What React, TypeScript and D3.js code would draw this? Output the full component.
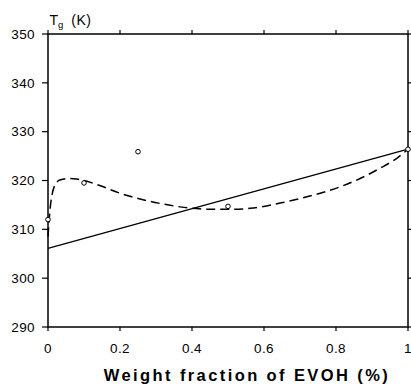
import React from "react";
import * as d3 from "d3";

const xTicks = [0, 0.2, 0.4, 0.6, 0.8, 1];
const xTickLabels = ["0", "0.2", "0.4", "0.6", "0.8", "1"];
const yTicks = [290, 300, 310, 320, 330, 340, 350];

const pointX = [0, 0.1, 0.25, 0.5, 1];
const pointY = [312, 319.5, 325.9, 314.7, 326.4];

const lineX = [0, 1];
const lineY = [306.1, 326.4];

const curveX = [0, 0.006, 0.011, 0.019, 0.033, 0.061, 0.08, 0.135, 0.2, 0.256, 0.311, 0.367, 0.42, 0.469, 0.514, 0.561, 0.607, 0.653, 0.7, 0.756, 0.811, 0.867, 0.922, 0.968, 1];
const curveY = [308.5, 314.3, 317, 319, 320.1, 320.4, 320.3, 319.2, 317.4, 316.2, 315.3, 314.6, 314.2, 314.1, 314.1, 314.3, 314.8, 315.5, 316.3, 317.4, 318.7, 320.4, 322.5, 324.5, 326.4];

export default function App() {
  const x = d3.scaleLinear().domain([0, 1]).range([48, 408]);
  const y = d3.scaleLinear().domain([290, 350]).range([327, 34]);
  const [x0, x1] = x.range();
  const [y0, y1] = y.range();

  const solid = d3.line<number>().x((d, i) => x(lineX[i])).y((d) => y(d))(lineY) || "";
  const dashed =
    d3
      .line<number>()
      .x((d, i) => x(curveX[i]))
      .y((d) => y(d))
      .curve(d3.curveMonotoneX)(curveY) || "";

  const font = "'Liberation Sans', Arial, Helvetica, sans-serif";

  return (
    <svg
      width={411}
      height={388}
      style={{ position: "absolute", left: 0, top: 0, background: "#fff" }}
      fontFamily={font}
    >
      {/* frame */}
      <rect x={x0} y={y1} width={x1 - x0} height={y0 - y1} fill="none" stroke="#000" strokeWidth={1.5} />
      {/* x ticks */}
      {xTicks.map((t, i) => (
        <g key={"xt" + i}>
          <line x1={x(t)} x2={x(t)} y1={y0} y2={y0 + 4} stroke="#000" strokeWidth={1.2} />
          <line x1={x(t)} x2={x(t)} y1={y1} y2={y1 - 4} stroke="#000" strokeWidth={1.2} />
          <text x={x(t)} y={352.5} fontSize={13.5} textAnchor="middle" fill="#000" letterSpacing={0.4}>
            {xTickLabels[i]}
          </text>
        </g>
      ))}
      {/* y ticks */}
      {yTicks.map((t, i) => (
        <g key={"yt" + i}>
          <line x1={x0 - 6} x2={x0} y1={y(t)} y2={y(t)} stroke="#000" strokeWidth={1.2} />
          <line x1={x1} x2={x1 + 4} y1={y(t)} y2={y(t)} stroke="#000" strokeWidth={1.2} />
          <text x={35} y={y(t) + 4.7} fontSize={13.5} textAnchor="end" fill="#000" letterSpacing={0.4}>
            {t}
          </text>
        </g>
      ))}
      {/* y axis label */}
      <text x={49.5} y={25} fontSize={14} fill="#000">
        T
        <tspan fontSize={9.5} dy={3}>g</tspan>
        <tspan dy={-3} dx={8} letterSpacing={0.5}>(K)</tspan>
      </text>
      {/* x axis title */}
      <text x={247} y={380.5} fontSize={16.5} fontWeight="bold" textAnchor="middle" letterSpacing={2.4} fill="#000">
        Weight fraction of EVOH (%)
      </text>
      {/* lines */}
      <path d={solid} fill="none" stroke="#000" strokeWidth={1.3} />
      <path d={dashed} fill="none" stroke="#000" strokeWidth={1.5} strokeDasharray="9,5" />
      {/* points */}
      {pointX.map((px, i) => (
        <circle key={"p" + i} cx={x(px)} cy={y(pointY[i])} r={2.3} fill="#fff" stroke="#000" strokeWidth={1} />
      ))}
    </svg>
  );
}
